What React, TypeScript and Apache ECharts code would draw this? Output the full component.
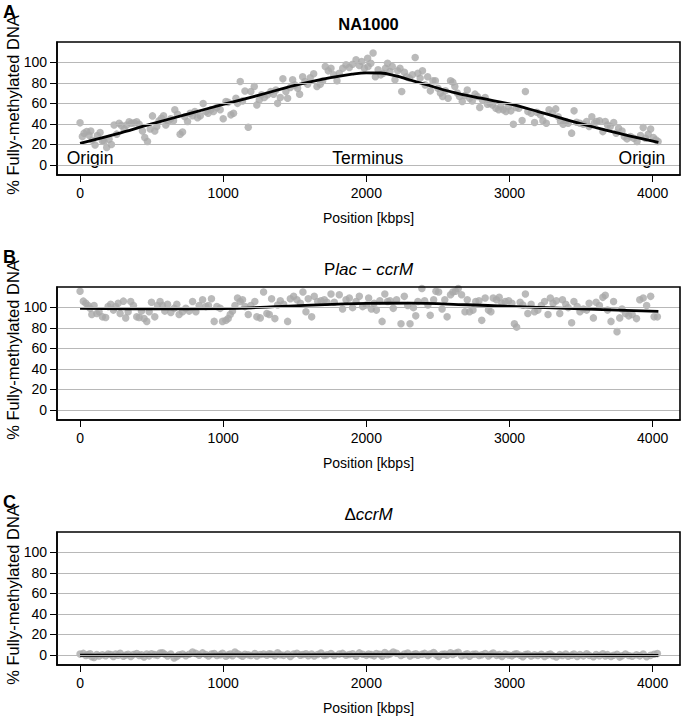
import React, { useEffect, useRef } from "react";
import * as echarts from "echarts";

// ---------- data ----------
const positionsA = [
  0, 16, 28, 47, 63, 75, 86, 105, 121, 140,
  156, 168, 186, 203, 219, 238, 256, 273, 289, 308,
  326, 343, 359, 378, 396, 413, 436, 452, 471, 490,
  506, 522, 536, 552, 569, 583, 599, 615, 634, 653,
  662, 681, 699, 716, 732, 751, 769, 786, 802, 821,
  840, 860, 879, 895, 914, 932, 956, 979, 1000, 1019,
  1035, 1054, 1072, 1089, 1100, 1119, 1135, 1152, 1175, 1193,
  1217, 1235, 1252, 1268, 1287, 1310, 1333, 1352, 1368, 1380,
  1399, 1417, 1438, 1450, 1469, 1485, 1501, 1520, 1534, 1555,
  1571, 1590, 1608, 1632, 1655, 1678, 1695, 1713, 1734, 1753,
  1772, 1795, 1811, 1835, 1858, 1881, 1904, 1928, 1951, 1967,
  1986, 2009,
  2012, 2031, 2047, 2063, 2082, 2101, 2118, 2134, 2148, 2165,
  2181, 2200, 2219, 2235, 2247, 2266, 2282, 2301, 2322, 2341,
  2360, 2376, 2392, 2411, 2428, 2447, 2465, 2482, 2500, 2517,
  2533, 2552, 2571, 2588, 2604, 2618, 2635, 2651, 2670, 2689,
  2705, 2721, 2740, 2759, 2776, 2792, 2811, 2830, 2846, 2863,
  2881, 2905, 2924, 2940, 2956, 2975, 2994, 3010, 3027, 3046,
  3065, 3088, 3111, 3128, 3151, 3175, 3191, 3215, 3233, 3257,
  3276, 3300, 3323, 3340, 3356, 3375, 3394, 3410, 3434, 3451,
  3469, 3492, 3516, 3539, 3556, 3575, 3593, 3609, 3629, 3652,
  3669, 3685, 3704, 3728, 3745, 3762, 3786, 3802, 3821, 3845,
  3868, 3891, 3915, 3934, 3950, 3969, 3986, 4005, 4023, 4038,
];
const methylA = [
  41, 27.6, 31, 32.5, 29, 33, 24, 19.5, 28.6, 31.5,
  23.4, 22.8, 17, 25, 20, 39, 30, 40.6, 38.4, 35,
  39, 42, 40.6, 41, 42, 39.7, 33, 26.7, 22.8, 35,
  47.8, 33, 37.4, 43, 45.5, 48, 39, 42.3, 45, 43,
  53.7, 49.4, 30, 32, 47, 42.3, 50.4, 48, 52, 46,
  48, 59.8, 52, 50.4, 53.7, 52, 56, 53.7, 45, 61.8,
  61, 48.8, 50.4, 65, 60, 81.3, 62.4, 72, 36.7, 71.5,
  76.4, 58.5, 63.4, 68.3, 65.7, 68.3, 71.5, 69, 73, 60,
  65.7, 83.9, 71.5, 65, 75.4, 83, 78, 74.8, 69, 86,
  81.3, 78.7, 85, 88.8, 76.4, 78.7, 82, 96, 91.7, 94.3,
  87.8, 82, 89.4, 94.3, 97.6, 95, 98.2, 102.4, 97, 100.8,
  94.3, 104,
  96, 99, 109, 86, 92.7, 87.8, 89.4, 94.3, 99, 91,
  96, 83, 91.7, 94.3, 71.5, 90.4, 86, 84.6, 87.8, 104.7,
  89.4, 84.6, 91.7, 78, 86, 72.2, 82, 82, 74.8, 70,
  66.7, 72.2, 65, 82, 80.7, 76.4, 70, 66.7, 61.8, 67.6,
  73, 65, 62.4, 69, 66.7, 56, 63.4, 65.7, 59.2, 60,
  58.5, 55.3, 53.7, 57, 53.7, 52, 57, 52.7, 39.7, 56,
  55.3, 43.3, 71.5, 52, 50.4, 41.3, 51.4, 48.8, 43, 40.7,
  53.7, 50.4, 54.6, 47, 42.3, 39.7, 42.3, 40.7, 31, 52.7,
  41.6, 40.7, 39.7, 42.3, 37.4, 47, 40.7, 42.3, 43, 32.5,
  42.3, 39, 37.4, 41.3, 31, 35.8, 33, 27.6, 25.4, 27.6,
  26, 22.8, 28.6, 36.4, 26, 30, 35, 26.7, 24.4, 22.8,
];

const positionsB = [
  0, 23, 40, 56, 70, 82, 98, 117, 133, 156,
  179, 196, 214, 233, 249, 266, 280, 303, 319, 336,
  354, 373, 396, 413, 429, 447, 466, 483, 499, 522,
  541, 559, 576, 592, 611, 634, 657, 676, 692, 716,
  739, 762, 786, 809, 832, 856, 879, 897, 918, 937,
  956, 979, 995, 1019, 1035, 1049, 1065, 1082, 1100, 1119,
  1135, 1152, 1175, 1193, 1221, 1235, 1259, 1282, 1305, 1322,
  1338, 1361, 1380, 1399, 1422, 1450, 1469, 1492, 1515, 1539,
  1557, 1578, 1594, 1618, 1636, 1660, 1683, 1706, 1725, 1753,
  1776, 1811, 1834, 1858, 1881, 1904, 1928, 1951, 1974,
  2000, 2016, 2035, 2054, 2070, 2094, 2110, 2129, 2148, 2165,
  2188, 2211, 2242, 2265, 2289, 2305, 2329, 2345, 2360, 2388,
  2407, 2430, 2446, 2470, 2486, 2505, 2529, 2548, 2564, 2588,
  2604, 2623, 2642, 2665, 2689, 2705, 2721, 2745, 2764, 2787,
  2806, 2830, 2853, 2870, 2886, 2909, 2928, 2947, 2970, 2994,
  3017, 3034, 3050, 3074, 3093, 3111, 3128, 3151, 3175, 3198,
  3222, 3245, 3269, 3285, 3304, 3327, 3351, 3370, 3393, 3410,
  3434, 3450, 3473, 3492, 3516, 3539, 3556, 3586, 3605, 3628,
  3652, 3669, 3685, 3709, 3727, 3751, 3770, 3786, 3810, 3833,
  3857, 3887, 3910, 3934, 3958, 3986, 4010, 4033,
];
const methylB = [
  115.7, 106, 104, 101.7, 99, 93, 101.7, 94, 95.7, 90.7,
  90, 100.7, 103, 97.3, 100.7, 104, 94, 106, 89.7, 95.7,
  105.7, 101.7, 90.7, 90, 96.3, 89, 86.3, 95.7, 105, 90.7,
  101.7, 105.7, 101.7, 96.3, 103, 95, 99, 103, 93, 95.7,
  99, 96.3, 105.7, 95.7, 101.7, 107.3, 100.7, 101.7, 108.3, 86.3,
  100.7, 99, 86.3, 87.3, 89, 93, 96.3, 101.7, 109, 105.7,
  107.3, 100.7, 93, 101.7, 105.7, 90.7, 89.7, 115, 94, 93,
  108.3, 89, 102.3, 106.3, 103, 86.3, 108.3, 110.7, 107.3, 104,
  115, 95.7, 108.3, 90.7, 110.7, 105.7, 106.3, 107.3, 105, 113,
  105, 112.3, 98.3, 107.3, 109, 99.7, 105.7, 110.7, 100.7,
  102.3, 109, 98.3, 104, 97.3, 106.3, 86.3, 113, 105.7, 106.3,
  99, 107.3, 84, 110.7, 101.7, 84, 99.7, 91.7, 105.7, 118.3,
  106.3, 102.3, 92.3, 107.3, 115.7, 115, 98.3, 107.3, 90.7, 112.3,
  115, 115.7, 118.3, 112.3, 95.7, 107.3, 95.7, 97.3, 105.7, 106.3,
  87.3, 109, 97.3, 95.7, 109, 107.3, 109.7, 104, 105.7, 106.3,
  104, 84, 80.7, 105, 102.3, 113, 94, 103, 95.7, 97.3,
  101.7, 105.7, 93, 109, 104, 106.3, 94, 107.3, 103, 99.7,
  85, 105.7, 100.7, 95.7, 98.3, 97.3, 104, 89.7, 105, 101.7,
  109.7, 111.7, 97.3, 86.3, 105.7, 76.3, 89.7, 98.3, 94, 91.7,
  93, 89, 107.3, 109, 101.7, 110.7, 90.7, 90.7,
];
// panel C uses the same genomic bins as panel B
const methylC = [
  0.8, 1.5, -0.5, 0.3, 1.2, -1.8, -2.5, 0.5, -1.0, 0.2,
  -0.8, 1.0, 0.4, -1.5, 0.9, -0.3, 1.6, -1.2, 0.0, 0.7,
  -1.6, 0.5, 1.3, -0.6, 0.2, -2.0, 0.8, -0.9, 1.1, 0.3,
  -0.4, 1.8, 2.2, 0.6, -1.1, 0.9, -3.0, -1.4, 0.2, 1.0,
  -0.7, 0.6, 2.8, 1.5, -0.2, 2.0, 0.4, -1.0, 0.8, 1.3,
  -0.5, 0.3, 1.7, -1.2, 0.1, 0.9, -0.8, 2.9, 1.2, 0.0,
  -1.3, 0.7, 0.2, -0.6, 1.4, -1.0, 0.5, 0.9, -0.3, 1.1,
  0.6, -0.9, 2.1, 0.3, -0.4, 1.0, -1.5, 0.8, 1.6, -0.2,
  0.4, 1.2, -0.7, 0.9, -1.1, 0.5, 1.8, -0.5, 0.2, 1.3,
  -0.6, 0.8, 1.5, -0.3, 0.4, 1.1, -1.2, 2.0, 0.6,
  -0.4, 1.0, 0.3, -0.9, 1.4, 0.6, -1.3, 2.4, 0.2, 0.9,
  2.8, 1.6, -0.5, 0.8, 1.9, -1.0, 0.4, 1.2, -0.2, 0.7,
  1.5, -0.6, 0.9, 2.3, 0.1, -1.4, 0.6, 1.0, -0.3, 2.1,
  0.5, 1.7, 2.6, -0.8, 0.3, 1.1, -1.2, 0.6, 0.9, -0.5,
  0.2, 1.4, -1.0, 0.7, 1.9, -0.4, 0.5, -1.6, 0.8, 0.0,
  -0.9, 0.6, 1.2, -0.3, -1.7, 0.4, 0.9, -1.1, 0.2, -0.6,
  0.7, -1.4, 0.1, 1.0, -0.8, -2.0, 0.3, -0.5, 0.9, -1.2,
  -0.2, 0.8, -1.5, 0.4, -0.9, 1.1, -0.4, -1.8, 0.5, -0.7,
  1.2, -1.0, 0.3, -1.6, -0.3, 0.6, -2.1, -0.8, 0.9, -0.5,
  -1.3, 0.2, -0.9, 0.8, -1.7, -0.4, 0.6, 1.3,
];

// smoothed (loess) trend lines
const fitPosA = [0, 250, 500, 750, 1000, 1250, 1500, 1750, 1900, 2000, 2100, 2200, 2300, 2400, 2600, 2800, 3000, 3200, 3400, 3600, 3800, 4040];
const fitA = [21, 30, 40, 49.5, 59, 68, 77.5, 85, 88.5, 89.8, 89.6, 87, 83, 79, 71, 65, 59.5, 52, 44, 36.5, 29.5, 22];
const fitPosB = [0, 500, 1000, 1500, 2000, 2300, 2700, 3000, 3400, 3700, 4040];
const fitB = [99, 98.5, 98.8, 101.5, 103.8, 104, 102.5, 101, 99, 97.5, 96];
const fitPosC = [0, 1000, 2000, 2500, 3000, 3500, 4040];
const fitC = [-0.3, 0, 0.2, 0.4, 0.1, -0.2, -0.5];

const xTicks = [0, 1000, 2000, 3000, 4000];
const yTicks = [0, 20, 40, 60, 80, 100];

const annotationLabels = ["Origin", "Terminus", "Origin"];
const annotationPos = [70, 2010, 3925];
const annotationLevel = [7, 7, 7];

const panelLetters = ["A", "B", "C"];
const yAxisTitle = "% Fully-methylated DNA";
const xAxisTitle = "Position [kbps]";

// ---------- chart ----------
const FONT = "'Liberation Sans', Arial, Helvetica, sans-serif";
const PANEL_TOPS = [42, 287, 532];
const PANEL_H = 133;
const GRID_LEFT = 57;
const GRID_W = 623;

function zip(xs: number[], ys: number[]) {
  return xs.map((x, i) => [x, ys[i]]);
}

export default function App() {
  const ref = useRef<HTMLDivElement>(null);

  useEffect(() => {
    if (!ref.current) return;
    const chart = echarts.init(ref.current, undefined, { renderer: "svg" });

    const panels = [
      { pos: positionsA, val: methylA, fx: fitPosA, fy: fitA },
      { pos: positionsB, val: methylB, fx: fitPosB, fy: fitB },
      { pos: positionsB, val: methylC, fx: fitPosC, fy: fitC },
    ];

    const grid = PANEL_TOPS.map((top) => ({
      left: GRID_LEFT,
      top,
      width: GRID_W,
      height: PANEL_H,
      show: false,
      containLabel: false,
      outerBoundsMode: "none",
    }));

    const tickText = { color: "#000", fontSize: 14, fontFamily: FONT };
    const plain = (v: number) => String(v);

    const xAxis = PANEL_TOPS.map((_, i) => ({
      type: "value",
      gridIndex: i,
      min: -161,
      max: 4191,
      axisLine: { show: true, onZero: false, lineStyle: { color: "#000", width: 1.5 } },
      axisTick: {
        show: true,
        inside: false,
        length: 7,
        customValues: xTicks,
        lineStyle: { color: "#000", width: 1 },
      },
      axisLabel: { ...tickText, margin: 11, customValues: xTicks, formatter: plain },
      splitLine: { show: false },
      name: xAxisTitle,
      nameLocation: "middle",
      nameGap: 36,
      nameTextStyle: { ...tickText },
    }));

    const yAxis = PANEL_TOPS.map((_, i) => ({
      type: "value",
      gridIndex: i,
      min: -9.8,
      max: 119.8,
      axisLine: { show: true, onZero: false, lineStyle: { color: "#000", width: 1.5 } },
      axisTick: {
        show: true,
        inside: false,
        length: 7,
        customValues: yTicks,
        lineStyle: { color: "#000", width: 1 },
      },
      axisLabel: { ...tickText, margin: 10, customValues: yTicks, formatter: plain },
      splitLine: { show: false },
    }));

    const series: any[] = [];
    panels.forEach((p, i) => {
      series.push({
        type: "line",
        xAxisIndex: i,
        yAxisIndex: i,
        data: [],
        silent: true,
        z: 1,
        markLine: {
          silent: true,
          symbol: ["none", "none"],
          label: { show: false },
          lineStyle: { color: "#B8B8B8", width: 1, type: "solid" },
          data: yTicks.map((v) => ({ yAxis: v })),
        },
      });
      series.push({
        type: "scatter",
        xAxisIndex: i,
        yAxisIndex: i,
        data: zip(p.pos, p.val),
        symbolSize: 7.5,
        itemStyle: { color: "#A9A9A9" },
        z: 2,
      });
      series.push({
        type: "line",
        xAxisIndex: i,
        yAxisIndex: i,
        data: zip(p.fx, p.fy),
        smooth: 0.4,
        showSymbol: false,
        lineStyle: { color: "#000", width: 2.8 },
        z: 3,
      });
    });
    series.push({
      type: "scatter",
      xAxisIndex: 0,
      yAxisIndex: 0,
      symbolSize: 1,
      itemStyle: { color: "#fff", opacity: 0 },
      z: 4,
      silent: true,
      data: annotationLabels.map((name, i) => ({
        name,
        value: [annotationPos[i], annotationLevel[i]],
      })),
      label: {
        show: true,
        position: "inside",
        formatter: "{b}",
        color: "#000",
        opacity: 1,
        textBorderColor: "transparent",
        textBorderWidth: 0,
        textShadowBlur: 0,
        fontSize: 17.5,
        fontFamily: FONT,
      },
    });

    const titleCenterX = GRID_LEFT + GRID_W / 2;
    const italic = { fontStyle: "italic", fontSize: 17, fontFamily: FONT, fill: "#000" };
    const normal = { fontSize: 17, fontFamily: FONT, fill: "#000" };
    const graphic: any[] = [
      {
        type: "text",
        x: titleCenterX,
        y: 24,
        style: {
          text: "NA1000",
          align: "center",
          verticalAlign: "middle",
          font: `bold 16.5px ${FONT}`,
          fill: "#000",
        },
      },
      {
        type: "text",
        x: titleCenterX,
        y: 269,
        style: {
          text: "{n|P}{i|lac}{n| − }{i|ccrM}",
          align: "center",
          verticalAlign: "middle",
          rich: { n: normal, i: italic },
        },
      },
      {
        type: "text",
        x: titleCenterX,
        y: 514,
        style: {
          text: "{n|Δ}{i|ccrM}",
          align: "center",
          verticalAlign: "middle",
          rich: { n: normal, i: italic },
        },
      },
    ];
    panelLetters.forEach((letter, i) => {
      graphic.push({
        type: "text",
        x: 3,
        y: PANEL_TOPS[i] - 30,
        style: {
          text: letter,
          align: "left",
          verticalAlign: "middle",
          font: `bold 18px ${FONT}`,
          fill: "#000",
        },
      });
      // rotated y-axis title
      graphic.push({
        type: "text",
        x: 13,
        y: PANEL_TOPS[i] + 63,
        rotation: Math.PI / 2,
        style: {
          text: yAxisTitle,
          align: "center",
          verticalAlign: "middle",
          font: `16.5px ${FONT}`,
          fill: "#000",
        },
      });
      // plot frame
      graphic.push({
        type: "rect",
        z: 100,
        silent: true,
        shape: { x: GRID_LEFT, y: PANEL_TOPS[i], width: GRID_W, height: PANEL_H },
        style: { fill: "none", stroke: "#000", lineWidth: 1.6 },
      });
    });

    chart.setOption({
      animation: false,
      backgroundColor: "#fff",
      grid,
      xAxis,
      yAxis,
      series,
      graphic,
    });

    return () => chart.dispose();
  }, []);

  return (
    <div
      ref={ref}
      style={{ position: "absolute", left: 0, top: 0, width: 683, height: 722 }}
    />
  );
}
